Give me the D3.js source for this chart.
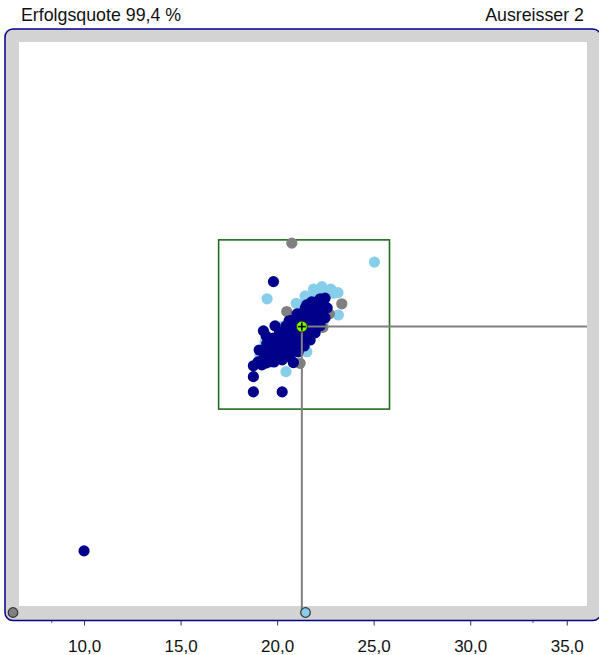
<!DOCTYPE html>
<html><head><meta charset="utf-8">
<script src="https://cdn.jsdelivr.net/npm/d3@7"></script>
<style>
html,body{margin:0;padding:0;background:#fff;}
svg{display:block;font-family:"Liberation Sans",Arial,sans-serif;}
</style></head>
<body><svg id="c" width="599" height="655"></svg>
<script>
// ---- data ----
const titleLeft = "Erfolgsquote 99,4 %";
const titleRight = "Ausreisser 2";
const xTicks = [10, 15, 20, 25, 30, 35];
const xMinorTicks = [8.33, 33.25];
const navyPoints = [
 [10.0,9.65],
 [18.77,19.23],[19.21,19.28],[18.77,18.67],[18.77,17.88],[20.26,17.88],[20.84,19.40],[19.81,23.59],[22.48,22.73],
 [19.01,19.43],[19.34,19.74],[19.67,20.05],[20.01,20.36],[20.34,20.68],[20.67,20.99],[21.00,21.30],[21.33,21.61],[21.66,21.92],[22.00,22.24],[22.33,22.55],
 [19.46,20.36],[19.79,20.67],[20.12,20.98],[20.46,21.29],[20.79,21.60],[21.12,21.91],[21.46,22.22],[21.79,22.54],
 [19.63,19.44],[19.96,19.75],[20.29,20.06],[20.63,20.37],[20.96,20.68],[21.28,20.99],[21.61,21.31],[21.94,21.62],[22.28,21.93],
 [20.51,19.84],[20.84,20.15],[21.17,20.46],[21.50,20.77],[21.83,21.08],
 [19.43,19.38],[19.84,19.43],[20.26,19.54],[20.67,19.69],[21.09,19.95],[21.40,20.26],[21.71,20.57],[21.97,20.94],[22.23,21.30],[22.48,21.71],[22.59,22.23],
 [19.29,21.04],[19.89,21.30],[20.62,21.56],[21.03,21.92],[19.43,20.78],[19.07,20.05],[20.26,20.88],[21.53,22.38],[22.02,22.53],[22.23,22.70],
 [19.49,19.59],[19.82,19.91],[20.15,20.22],[20.48,20.53],[20.81,20.84],[21.15,21.15],[21.48,21.46],[21.81,21.77],[22.14,22.08],
 [19.54,20.21],[19.87,20.52],[20.20,20.83],[20.53,21.14],[20.87,21.45],[21.20,21.76],[21.53,22.07],[21.86,22.38],
 [20.07,19.64],[20.40,19.95],[20.73,20.26],[21.06,20.57],[21.39,20.88],[21.72,21.20],[22.05,21.51]
];
const lightPoints = [
 [25.04,24.60],[19.48,22.70],[21.88,23.20],[22.32,23.33],[22.78,23.20],[23.15,23.02],[22.92,22.99],[21.80,22.73],
 [20.99,22.47],[23.17,21.86],[20.46,18.93],[19.37,20.47],[21.54,19.96],[22.38,21.45],[20.24,21.26],[22.02,22.85],
 [21.19,22.38],[19.11,19.79],[22.59,23.00],[21.45,22.85],[22.12,23.06]
];
const greyPoints = [
 [20.76,25.58],[23.35,22.44],[22.71,21.92],[22.37,21.22],[20.50,22.04],[21.19,19.36]
];
// outliers beyond the plot range (drawn clamped onto the frame)
const outliers = [
 {x:4.0, y:4.0, kind:"grey"},
 {x:21.47, y:4.0, kind:"light"}
];
const meanPoint = [21.28, 21.26];
const toleranceBox = {x0:16.97, x1:25.82, y0:16.99, y1:25.75};

// ---- drawing ----
const svg = d3.select("#c");
const colors = {navy:"#00008b", light:"#87ceeb", grey:"#808080"};
const xS = d3.scaleLinear().domain([6.32, 36.36]).range([13, 593]).clamp(true);
const yS = d3.scaleLinear().domain([6.46, 36.33]).range([612.5, 35.5]).clamp(true);

svg.append("text").attr("x",21).attr("y",21).attr("font-size",17.8).attr("fill","#111").text(titleLeft);
svg.append("text").attr("x",584).attr("y",21).attr("font-size",17.8).attr("fill","#111").attr("text-anchor","end").text(titleRight);

// frame
svg.append("rect").attr("x",5).attr("y",29).attr("width",595.8).attr("height",591.5).attr("rx",8)
  .attr("fill","#d3d3d3").attr("stroke",colors.navy).attr("stroke-width",1.5);
svg.append("rect").attr("x",19).attr("y",42).attr("width",568).attr("height",564).attr("fill","#fff");

// tolerance box
svg.append("rect")
  .attr("x",xS(toleranceBox.x0)).attr("y",yS(toleranceBox.y1))
  .attr("width",xS(toleranceBox.x1)-xS(toleranceBox.x0))
  .attr("height",yS(toleranceBox.y0)-yS(toleranceBox.y1))
  .attr("fill","none").attr("stroke","#1f6e1f").attr("stroke-width",1.6);

const r = 5.6;
function dots(data, col){
  svg.append("g").selectAll("circle").data(data).join("circle")
    .attr("cx",d=>xS(d[0])).attr("cy",d=>yS(d[1])).attr("r",r).attr("fill",col);
}
dots(lightPoints, colors.light);
dots(greyPoints, colors.grey);
dots(navyPoints, colors.navy);

// mean cross lines
const mx = xS(meanPoint[0]), my = yS(meanPoint[1]);
svg.append("line").attr("x1",mx).attr("x2",mx).attr("y1",my).attr("y2",yS(6.46))
  .attr("stroke","#808080").attr("stroke-width",2);
svg.append("line").attr("x1",mx).attr("x2",587).attr("y1",my).attr("y2",my)
  .attr("stroke","#808080").attr("stroke-width",2);

// outliers on frame
svg.append("g").selectAll("circle").data(outliers).join("circle")
  .attr("cx",d=>xS(d.x)).attr("cy",d=>yS(d.y)).attr("r",4.8)
  .attr("fill",d=>colors[d.kind]).attr("stroke","#333").attr("stroke-width",1.2);

// mean marker
svg.append("circle").attr("cx",mx).attr("cy",my).attr("r",5.5).attr("fill","#7fff00").attr("stroke","#222").attr("stroke-width",1);
svg.append("line").attr("x1",mx-4).attr("x2",mx+4).attr("y1",my).attr("y2",my).attr("stroke","#000").attr("stroke-width",1.6);
svg.append("line").attr("x1",mx).attr("x2",mx).attr("y1",my-4).attr("y2",my+4).attr("stroke","#000").attr("stroke-width",1.6);

// axis
const ax = d3.axisBottom(xS).tickValues(xTicks).tickSize(5).tickPadding(14)
  .tickFormat(d=>d3.format(".1f")(d).replace(".",","));
const g = svg.append("g").attr("transform","translate(0,620.5)").call(ax);
g.select(".domain").remove();
g.selectAll(".tick line").attr("stroke","#333");
g.selectAll(".tick text").attr("font-size",17).attr("fill","#111").attr("font-family","'Liberation Sans',Arial,sans-serif");
svg.append("g").selectAll("line").data(xMinorTicks).join("line")
  .attr("x1",d=>xS(d)).attr("x2",d=>xS(d)).attr("y1",621).attr("y2",623).attr("stroke","#555");
</script></body></html>
